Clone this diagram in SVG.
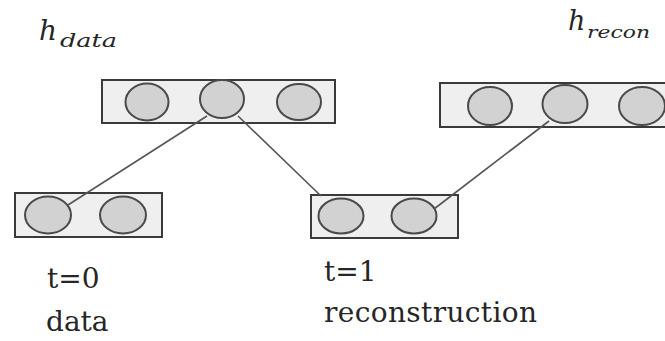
<svg xmlns="http://www.w3.org/2000/svg" width="665" height="341" viewBox="0 0 665 341">
  <style>
    .layer { fill: #efefef; stroke: #3a3a3a; stroke-width: 2; }
    .unit { fill: #d2d2d2; stroke: #4a4a4a; stroke-width: 2; }
    .link { stroke: #555555; stroke-width: 1.6; fill: none; }
    .lbl { font-family: "DejaVu Serif", "Liberation Serif", serif; font-size: 28px; fill: #262626; }
    .var { font-family: "DejaVu Serif", "Liberation Serif", serif; font-style: italic; fill: #262626; }
  </style>
  <rect width="665" height="341" fill="#ffffff"/>

  <!-- hidden layer driven by data -->
  <g id="h-data">
    <rect class="layer" x="102" y="80" width="233" height="43"/>
    <ellipse class="unit" cx="147" cy="102" rx="21.5" ry="18.5"/>
    <ellipse class="unit" cx="222" cy="99" rx="22" ry="19"/>
    <ellipse class="unit" cx="299" cy="102" rx="22" ry="18"/>
  </g>

  <!-- hidden layer driven by reconstruction -->
  <g id="h-recon">
    <rect class="layer" x="440" y="83" width="232" height="44"/>
    <ellipse class="unit" cx="490" cy="106" rx="22" ry="19"/>
    <ellipse class="unit" cx="565" cy="104" rx="22.5" ry="19"/>
    <ellipse class="unit" cx="642" cy="106" rx="23" ry="19"/>
  </g>

  <!-- visible layer at t=0 -->
  <g id="v-data">
    <rect class="layer" x="15" y="193" width="147" height="44"/>
    <ellipse class="unit" cx="48" cy="215" rx="23" ry="18.5"/>
    <ellipse class="unit" cx="123" cy="215" rx="23" ry="18.5"/>
  </g>

  <!-- visible layer at t=1 -->
  <g id="v-recon">
    <rect class="layer" x="311" y="195" width="147" height="43"/>
    <ellipse class="unit" cx="341" cy="216" rx="22.5" ry="17.5"/>
    <ellipse class="unit" cx="414" cy="216" rx="22.5" ry="17.5"/>
  </g>

  <!-- connections between units, drawn over the layers -->
  <g id="connectors">
    <line class="link" x1="207" y1="116" x2="68" y2="205"/>
    <line class="link" x1="238" y1="116" x2="321" y2="196"/>
    <line class="link" x1="549" y1="121" x2="434" y2="209"/>
  </g>

  <!-- labels -->
  <g id="labels">
    <text class="var" x="39" y="40" font-size="28">h</text>
    <text class="var" x="60" y="47" font-size="19" textLength="57" lengthAdjust="spacingAndGlyphs">data</text>
    <text class="var" x="568" y="30" font-size="27">h</text>
    <text class="var" x="587" y="38" font-size="17" textLength="63" lengthAdjust="spacingAndGlyphs">recon</text>
    <text class="lbl" x="47" y="288">t=0</text>
    <text class="lbl" x="46" y="331">data</text>
    <text class="lbl" x="324" y="281">t=1</text>
    <text class="lbl" x="324" y="322" textLength="213">reconstruction</text>
  </g>
</svg>
